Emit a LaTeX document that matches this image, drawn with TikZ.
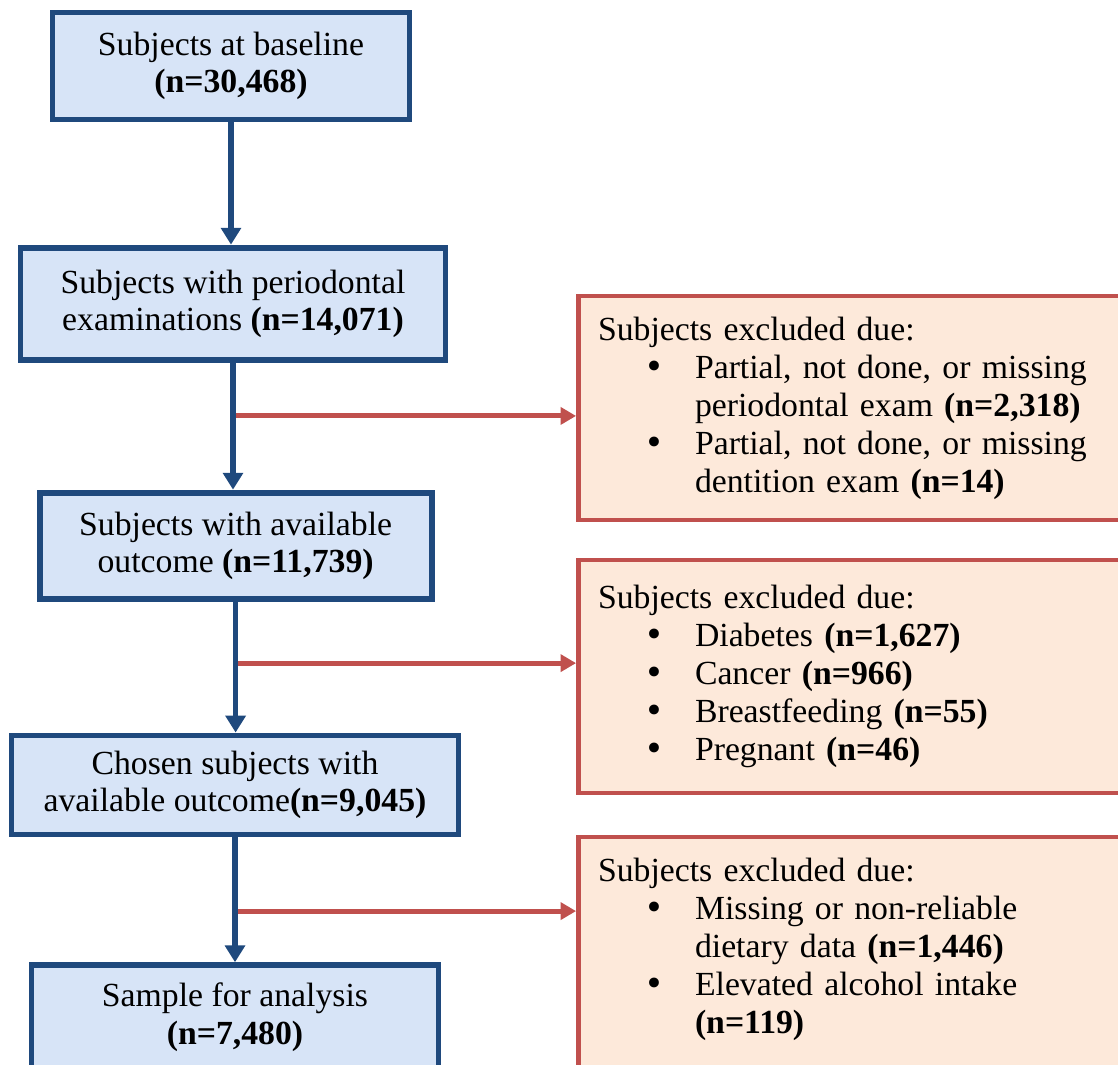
\documentclass[tikz,border=0pt]{standalone}
\usepackage{fontspec}
\setmainfont{Liberation Serif}
\newfontfamily\bulletfont{DejaVu Sans}
\usepackage{xcolor}
\usepackage{tikz}
\usetikzlibrary{arrows.meta,calc}

\definecolor{stepedge}{HTML}{1F497D}
\definecolor{stepfill}{HTML}{D7E4F7}
\definecolor{excledge}{HTML}{C0504D}
\definecolor{exclfill}{HTML}{FDE9DA}
\newcommand{\bitem}{\hspace*{33pt}\makebox[36pt][l]{\bulletfont\symbol{"2022}}}
\newcommand{\bcont}{\hspace*{69pt}}

\begin{document}
\begin{tikzpicture}[
        stepbox/.style={draw=stepedge, line width=4.2pt, fill=stepfill, align=center, inner sep=4pt, font=\fontsize{24}{26.5}\selectfont},
        exclbox/.style={draw=excledge, line width=3.2pt, fill=exclfill, align=left, text width=13.3cm, inner xsep=14pt, font=\fontsize{24}{27}\selectfont},
        mainflow/.style={-{Triangle[width=14pt,length=12pt]}, line width=4pt, stepedge},
        exclflow/.style={-{Triangle[width=12pt,length=11pt]}, line width=3.5pt, excledge}
    ]
        \useasboundingbox (0,0) rectangle (27.95,-26.625);
        \clip (0,0) rectangle (27.95,-26.625);

        \node[stepbox, minimum width=8.925cm, minimum height=2.675cm] (base) at (5.775,-1.65) {Subjects at baseline\\\textbf{(n=30,468)}};
        \node[stepbox, minimum width=10.625cm, minimum height=2.8cm] (perio) at (5.825,-7.59) {Subjects with periodontal\\examinations \textbf{(n=14,071)}};
        \node[stepbox, minimum width=9.8cm, minimum height=2.65cm] (outcome) at (5.89,-13.64) {Subjects with available\\outcome \textbf{(n=11,739)}};
        \node[stepbox, minimum width=11.175cm, minimum height=2.475cm] (chosen) at (5.875,-19.625) {Chosen subjects with\\available outcome\textbf{(n=9,045)}};
        \node[stepbox, minimum width=10.175cm, minimum height=2.6cm] (sample) at (5.875,-25.43) {Sample for analysis\\\textbf{(n=7,480)}};

        \node[exclbox, minimum height=5.6cm] (excl1) at (21.6,-10.2) {Subjects excluded due:\\
            \bitem Partial, not done, or missing\\
            \bcont periodontal exam \textbf{(n=2,318)}\\
            \bitem Partial, not done, or missing\\
            \bcont dentition exam \textbf{(n=14)}};
        \node[exclbox, minimum height=5.825cm] (excl2) at (21.6,-16.91) {Subjects excluded due:\\
            \bitem Diabetes \textbf{(n=1,627)}\\
            \bitem Cancer \textbf{(n=966)}\\
            \bitem Breastfeeding \textbf{(n=55)}\\
            \bitem Pregnant \textbf{(n=46)}};
        \node[exclbox, minimum height=6.4cm] (excl3) at (21.6,-24.125) {Subjects excluded due:\\
            \bitem Missing or non-reliable\\
            \bcont dietary data \textbf{(n=1,446)}\\
            \bitem Elevated alcohol intake\\
            \bcont \textbf{(n=119)}\\
            \mbox{}};

        \coordinate (cut1) at ($(perio.south)!0.42!(perio.south |- outcome.north)$);
        \coordinate (cut2) at ($(outcome.south)!0.47!(outcome.south |- chosen.north)$);
        \coordinate (cut3) at ($(chosen.south)!0.59!(chosen.south |- sample.north)$);

        \draw[exclflow] (cut1) -- (cut1 -| excl1.west);
        \draw[exclflow] (cut2) -- (cut2 -| excl2.west);
        \draw[exclflow] (cut3) -- (cut3 -| excl3.west);

        \draw[mainflow] (base.south) -- (base.south |- perio.north);
        \draw[mainflow] (perio.south) -- (perio.south |- outcome.north);
        \draw[mainflow] (outcome.south) -- (outcome.south |- chosen.north);
        \draw[mainflow] (chosen.south) -- (chosen.south |- sample.north);
    \end{tikzpicture}
\end{document}
